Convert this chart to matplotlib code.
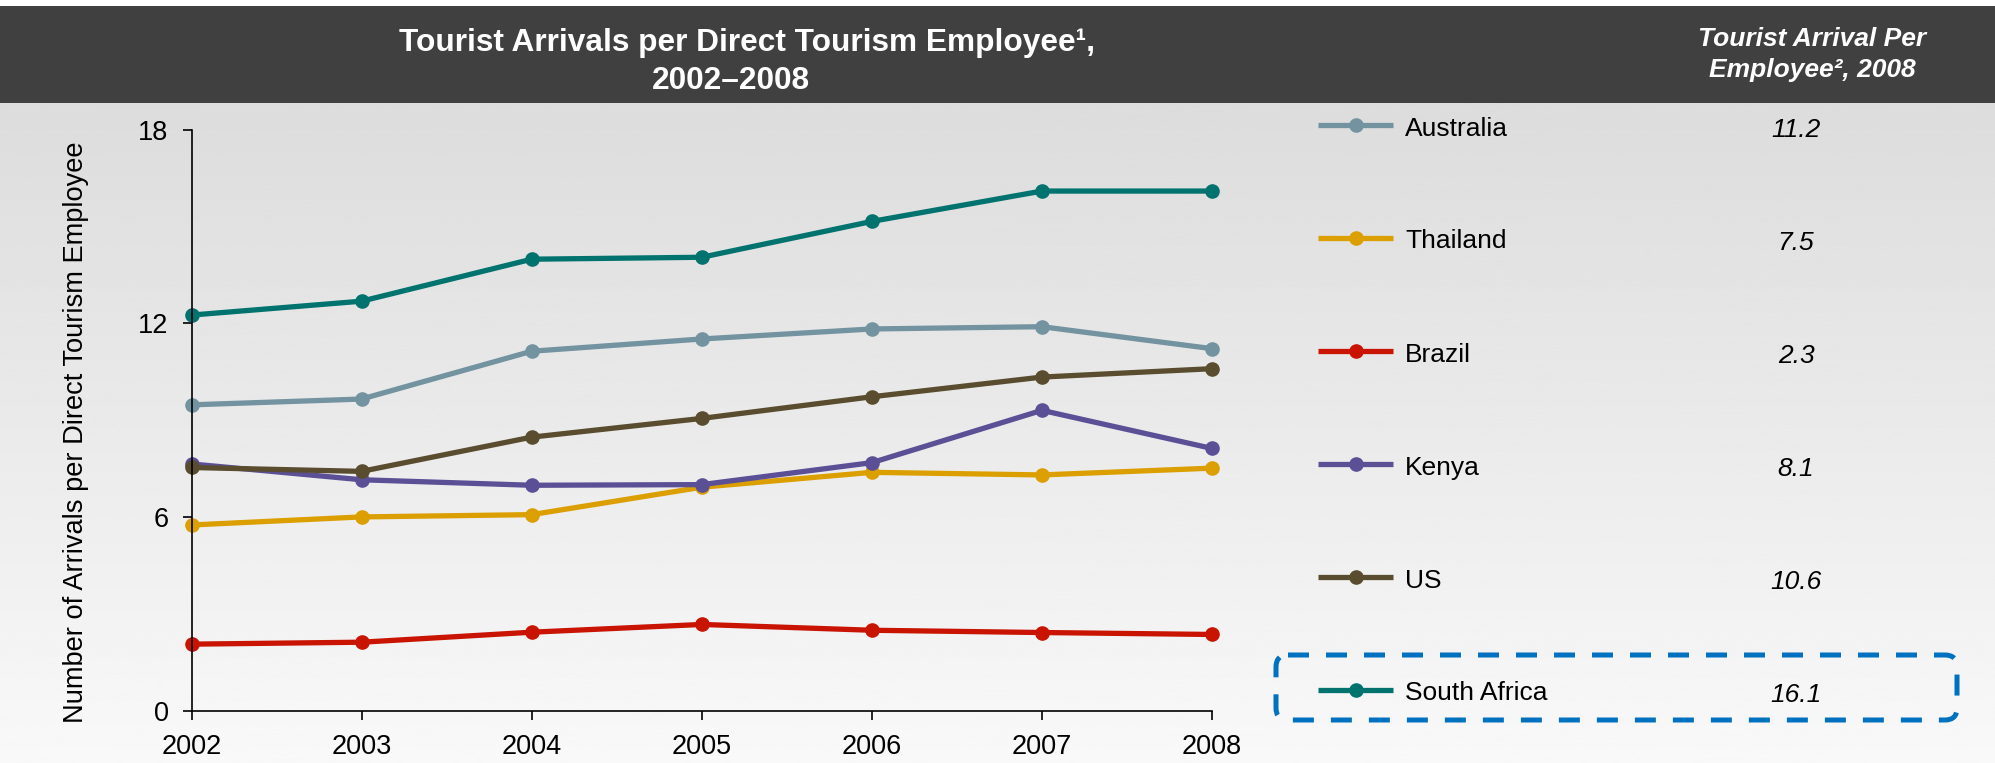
import numpy as np
import matplotlib
matplotlib.use("Agg")
import matplotlib.pyplot as plt
from matplotlib.patches import Rectangle, FancyBboxPatch

plt.rcParams['font.family'] = ['Liberation Sans', 'DejaVu Sans']

# --- data ---
years = [2002, 2003, 2004, 2005, 2006, 2007, 2008]
countries = ["Australia", "Thailand", "Brazil", "Kenya", "US", "South Africa"]
australia = [9.48, 9.66, 11.14, 11.52, 11.83, 11.90, 11.22]
thailand = [5.76, 6.01, 6.08, 6.93, 7.39, 7.31, 7.52]
brazil = [2.07, 2.13, 2.44, 2.68, 2.50, 2.43, 2.37]
kenya = [7.65, 7.16, 6.99, 7.01, 7.69, 9.31, 8.13]
us = [7.54, 7.42, 8.48, 9.06, 9.73, 10.34, 10.60]
south_africa = [12.26, 12.69, 13.99, 14.05, 15.16, 16.10, 16.10]
values_2008 = ["11.2", "7.5", "2.3", "8.1", "10.6", "16.1"]
yticks = [0, 6, 12, 18]

colors = {
    "Australia": "#7393A0",
    "Thailand": "#DC9F00",
    "Brazil": "#C81400",
    "Kenya": "#5B4F96",
    "US": "#5A4C2F",
    "South Africa": "#00736E",
}
series = {
    "Australia": australia,
    "Thailand": thailand,
    "Brazil": brazil,
    "Kenya": kenya,
    "US": us,
    "South Africa": south_africa,
}
draw_order = ["Thailand", "Brazil", "Kenya", "US", "Australia", "South Africa"]

W, H = 1995, 763
fig = plt.figure(figsize=(W / 100, H / 100), dpi=100)

# background layer in pixel coordinates
bg = fig.add_axes([0, 0, 1, 1], zorder=-10)
bg.set_xlim(0, W)
bg.set_ylim(H, 0)
bg.axis("off")
grad = np.linspace(0.863, 0.975, 256)[:, None]
bg.imshow(grad, cmap="gray", vmin=0, vmax=1, extent=(0, W, H, 103), aspect="auto")
bg.add_patch(Rectangle((0, 6), W, 97, color="#404040", lw=0))

# header
bg.text(747, 50.7, "Tourist Arrivals per Direct Tourism Employee\u00b9,", color="white",
        fontsize=22.8, fontweight="bold", ha="center", va="baseline")
bg.text(731, 89, "2002\u20132008", color="white",
        fontsize=22.8, fontweight="bold", ha="center", va="baseline")
bg.text(1812, 46, "Tourist Arrival Per", color="white", fontsize=19,
        fontweight="bold", fontstyle="italic", ha="center", va="baseline")
bg.text(1812, 77, "Employee\u00b2, 2008", color="white", fontsize=19,
        fontweight="bold", fontstyle="italic", ha="center", va="baseline")

# main chart
ax = fig.add_axes([191.5 / W, 1 - 711 / H, (1212 - 191.5) / W, (711 - 129.7) / H])
ax.patch.set_alpha(0)
for name in draw_order:
    ax.plot(years, series[name], color=colors[name], lw=3.8, marker="o", ms=9.5,
            clip_on=False, solid_capstyle="round")
ax.set_xlim(years[0], years[-1])
ax.set_ylim(0, 18)
ax.set_xticks(years)
ax.set_yticks(yticks)
ax.spines["top"].set_visible(False)
ax.spines["right"].set_visible(False)
for s in ["left", "bottom"]:
    ax.spines[s].set_linewidth(1.2)
ax.tick_params(axis="both", direction="out", length=6.5, width=1.2, labelsize=19.5, pad=10)

fig.text(76 / W, 1 - 432 / H, "Number of Arrivals per Direct Tourism Employee",
         rotation=90, fontsize=19.6, ha="center", va="center")

# legend / table column
for i, name in enumerate(countries):
    y = 125 + 113 * i
    bg.plot([1318, 1393], [y, y], color=colors[name], lw=3.8, solid_capstyle="butt")
    bg.plot([1355.5], [y], marker="o", ms=9.5, color=colors[name])
    bg.text(1405, y + 10.5, name, fontsize=19, ha="left", va="baseline")
    bg.text(1796, y + 12, values_2008[i], fontsize=19, fontstyle="italic",
            ha="center", va="baseline")

box = FancyBboxPatch((1276, 655), 681, 65, boxstyle="round,pad=0,rounding_size=12",
                     fill=False, edgecolor="#0070C0", lw=3.6, linestyle=(0, (4.2, 3.4)))
bg.add_patch(box)

fig.savefig("out.png", dpi=100)
